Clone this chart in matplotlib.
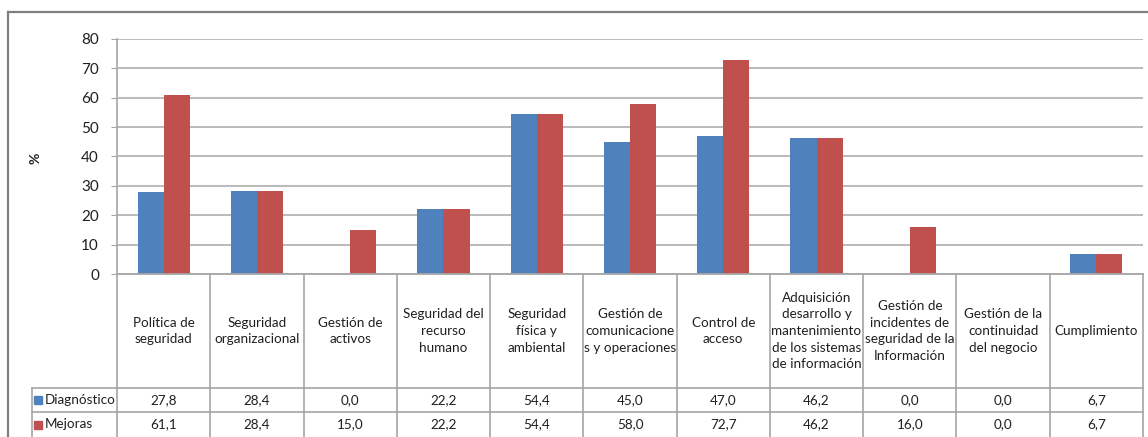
import numpy as np
import matplotlib
matplotlib.use("Agg")
import matplotlib.pyplot as plt
from matplotlib.lines import Line2D
from matplotlib.patches import Rectangle

plt.rcParams['font.family'] = ['Lato', 'DejaVu Sans']

# data
categories = [
    "Política de\nseguridad",
    "Seguridad\norganizacional",
    "Gestión de\nactivos",
    "Seguridad del\nrecurso\nhumano",
    "Seguridad\nfísica y\nambiental",
    "Gestión de\ncomunicacione\ns y operaciones",
    "Control de\nacceso",
    "Adquisición\ndesarrollo y\nmantenimiento\nde los sistemas\nde información",
    "Gestión de\nincidentes de\nseguridad de la\nInformación",
    "Gestión de la\ncontinuidad\ndel negocio",
    "Cumplimiento",
]
diagnostico = [27.8, 28.4, 0.0, 22.2, 54.4, 45.0, 47.0, 46.2, 0.0, 0.0, 6.7]
mejoras = [61.1, 28.4, 15.0, 22.2, 54.4, 58.0, 72.7, 46.2, 16.0, 0.0, 6.7]
series_names = ["Diagnóstico", "Mejoras"]
yticks = [0, 10, 20, 30, 40, 50, 60, 70, 80]

blue = "#4F81BD"
red = "#C0504D"
grid_c = "#b4b4b4"
line_c = "#a6a6a6"
txt_c = "#1f1f1f"

W, H = 1148, 437
fig = plt.figure(figsize=(W / 100, H / 100), dpi=100)

# plot area in pixels
x0, x1 = 117, 1143
y_top, y_bot = 39, 274
ax = fig.add_axes([x0 / W, 1 - y_bot / H, (x1 - x0) / W, (y_bot - y_top) / H])

n = len(categories)
xs = np.arange(n)
w = 0.28
ax.bar(xs - w / 2, diagnostico, w, color=blue, zorder=3)
ax.bar(xs + w / 2, mejoras, w, color=red, zorder=3)

ax.set_xlim(-0.5, n - 0.5)
ax.set_ylim(0, 80)
ax.set_yticks(yticks)
ax.set_xticks([])
ax.grid(axis="y", color=grid_c, linewidth=1.3, zorder=0)
for s in ["top", "right", "bottom"]:
    ax.spines[s].set_visible(False)
ax.spines["left"].set_color(line_c)
ax.spines["left"].set_linewidth(1.2)
ax.tick_params(axis="y", length=4, color=line_c, labelsize=11, labelcolor=txt_c, pad=9)

fig.text(35 / W, 1 - 158 / H, "%", rotation=90, fontsize=10, fontweight="bold",
         color=txt_c, ha="center", va="center")

# data table below the chart
tab = fig.add_axes([x0 / W, 0, (x1 - x0) / W, (H - y_bot) / H])
tab.set_xlim(-0.5, n - 0.5)
tab.set_ylim(H, y_bot)
tab.axis("off")

px = (x1 - x0) / n  # pixels per category
left_col = -0.5 - (x0 - 32) / px
row1, row2 = 388, 412

tab.add_line(Line2D([-0.5, n - 0.5], [y_bot, y_bot], color=line_c, lw=1.3, clip_on=False))
for k in range(n + 1):
    tab.add_line(Line2D([k - 0.5, k - 0.5], [y_bot, H], color=line_c, lw=1.2, clip_on=False))
tab.add_line(Line2D([left_col, left_col], [row1, H], color=line_c, lw=1.2, clip_on=False))
for yy in [row1, row2]:
    tab.add_line(Line2D([left_col, n - 0.5], [yy, yy], color=line_c, lw=1.2, clip_on=False))

for i, cat in enumerate(categories):
    tab.text(i, (y_bot + row1) / 2, cat, ha="center", va="center", fontsize=9.7,
             color=txt_c, linespacing=1.45)
    tab.text(i, (row1 + row2) / 2, f"{diagnostico[i]:.1f}".replace(".", ","),
             ha="center", va="center", fontsize=9.7, color=txt_c)
    tab.text(i, (row2 + H) / 2, f"{mejoras[i]:.1f}".replace(".", ","),
             ha="center", va="center", fontsize=9.7, color=txt_c)

sq = 8 / px
for name, col, yc in [(series_names[0], blue, (row1 + row2) / 2), (series_names[1], red, (row2 + H) / 2)]:
    tab.add_patch(Rectangle((left_col + 2 / px, yc - 4), sq, 8, color=col, clip_on=False))
    tab.text(left_col + 13 / px, yc, name, ha="left", va="center", fontsize=9.7, color=txt_c)

# outer chart border
fig.add_artist(Line2D([8 / W, 8 / W], [0, 1 - 12 / H], color="#7f7f7f", lw=1.6))
fig.add_artist(Line2D([8 / W, 1], [1 - 12 / H, 1 - 12 / H], color="#7f7f7f", lw=1.6))

fig.savefig("out.png", dpi=100)
